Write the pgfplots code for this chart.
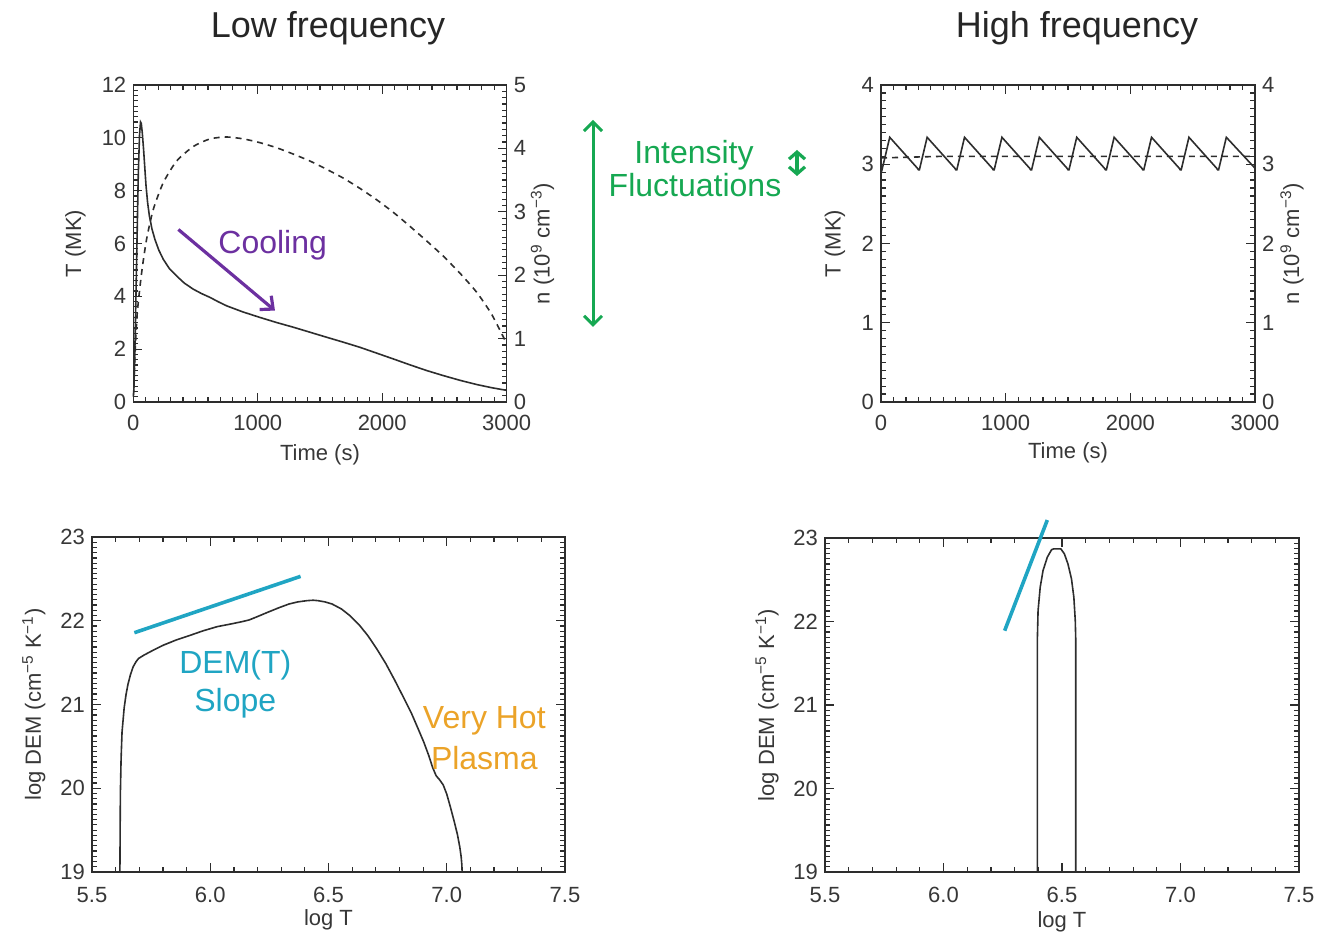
\documentclass[border=0pt]{standalone}
\usepackage{fontspec}
\setmainfont{Liberation Sans}
\usepackage{pgfplots}
\pgfplotsset{compat=1.18}
\usetikzlibrary{arrows.meta}
\definecolor{cpurple}{RGB}{108,48,160}
\definecolor{cgreen}{RGB}{22,168,82}
\definecolor{ccyan}{RGB}{32,165,195}
\definecolor{corange}{RGB}{235,163,40}
\definecolor{cline}{RGB}{45,45,45}
\definecolor{ctext}{RGB}{55,55,55}
\pgfplotsset{
  idl/.style={
    scale only axis, anchor=south west,
    major tick length=4.5pt, minor tick length=2.5pt,
    axis line style={cline, line width=0.7pt},
    tick style={cline, line width=0.6pt},
    tick label style={font=\fontsize{11}{13}\selectfont, text=ctext},
    label style={font=\fontsize{11}{13}\selectfont, text=ctext},
    /pgf/number format/assume math mode=true,
    /pgf/number format/1000 sep={},
  },
}
\begin{document}
\begin{tikzpicture}
\path[use as bounding box] (0,0) rectangle (658.5pt,468pt);

% titles
\node[font=\fontsize{18}{20}\selectfont, text=black!85] at (164pt,454pt) {Low frequency};
\node[font=\fontsize{18}{20}\selectfont, text=black!85] at (538.5pt,454pt) {High frequency};

% ---------- top-left ----------
\begin{axis}[idl, at={(66.65pt,267pt)}, width=186.7pt, height=158.5pt,
  xmin=0, xmax=3000, ymin=0, ymax=12,
  xtick={0,1000,2000,3000}, ytick={0,2,4,6,8,10,12},
  minor x tick num=9, minor y tick num=9,
  xtick pos=both, ytick pos=left, tick align=inside,
  xlabel={Time (s)}, ylabel={T (MK)},
  xlabel style={at={(rel axis cs:0.5,-0.167)}, anchor=center},
  ylabel style={at={(rel axis cs:-0.155,0.5)}, anchor=center},
  xticklabel shift=3pt, clip=false,
]
\addplot[cline, line width=0.8pt] coordinates {
(0,0.2) (5,0.5) (15,2.5) (27,5.4) (40,8.6) (50,10.1) (58,10.6) (64,10.55) (72,10.2)
(82,9.6) (92,8.9) (102,8.2) (115,7.55) (129,7.05) (150,6.55) (174,6.15) (205,5.75)
(241,5.40) (290,5.05) (348,4.77) (410,4.50) (482,4.27) (550,4.10) (616,3.96)
(680,3.80) (750,3.64) (880,3.41) (1018,3.20) (1150,3.01) (1286,2.83) (1420,2.64)
(1554,2.45) (1690,2.26) (1821,2.07) (1955,1.85) (2089,1.63) (2220,1.41) (2357,1.19)
(2490,1.00) (2625,0.82) (2760,0.66) (2880,0.54) (3000,0.44)
};
\draw[cpurple, line width=1.6pt, -{Straight Barb[length=5pt,width=9pt]}] (axis cs:362,6.53) -- (axis cs:1138,3.46);
\node[text=cpurple, font=\fontsize{16}{18}\selectfont] at (axis cs:1120,5.95) {Cooling};
\end{axis}
\begin{axis}[idl, at={(66.65pt,267pt)}, width=186.7pt, height=158.5pt,
  xmin=0, xmax=3000, ymin=0, ymax=5,
  axis x line=none, axis y line*=right,
  ytick={0,1,2,3,4,5}, minor y tick num=9, tick align=inside,
  ylabel={n (10\textsuperscript{9} cm\textsuperscript{−3})},
  ylabel style={at={(rel axis cs:1.096,0.5)}, anchor=center},
]
\addplot[cline, line width=0.8pt, dash pattern=on 3pt off 2.5pt, smooth, tension=0.4] coordinates {
(0,0.1) (5,0.3) (16,0.84) (32,1.41) (67,2.04) (107,2.57) (161,3.04) (241,3.46)
(348,3.80) (482,4.03) (616,4.15) (750,4.18) (884,4.15) (1018,4.09) (1152,4.01)
(1286,3.91) (1420,3.80) (1554,3.67) (1688,3.53) (1820,3.37) (1955,3.19) (2090,2.99)
(2223,2.77) (2357,2.54) (2491,2.30) (2625,2.03) (2759,1.73) (2880,1.38) (3000,0.92)
};
\end{axis}

% ---------- top-right ----------
\begin{axis}[idl, at={(440.5pt,267pt)}, width=187pt, height=158.5pt,
  xmin=0, xmax=3000, ymin=0, ymax=4,
  xtick={0,1000,2000,3000}, ytick={0,1,2,3,4},
  minor x tick num=9, minor y tick num=9,
  xtick pos=both, ytick pos=left, tick align=inside,
  xlabel={Time (s)}, ylabel={T (MK)},
  xlabel style={at={(rel axis cs:0.5,-0.16)}, anchor=center},
  ylabel style={at={(rel axis cs:-0.123,0.5)}, anchor=center},
  xticklabel shift=3pt,
]
\addplot[cline, line width=0.8pt] coordinates {
(0,2.95) (8,2.93) (70,3.34) (292,2.95) (300,2.93) (308,2.93) (370,3.34) (592,2.95) (600,2.93) (608,2.93) (670,3.34)
(892,2.95) (900,2.93) (908,2.93) (970,3.34) (1192,2.95) (1200,2.93) (1208,2.93) (1270,3.34) (1492,2.95) (1500,2.93) (1508,2.93) (1570,3.34)
(1792,2.95) (1800,2.93) (1808,2.93) (1870,3.34) (2092,2.95) (2100,2.93) (2108,2.93) (2170,3.34) (2392,2.95) (2400,2.93) (2408,2.93) (2470,3.34)
(2692,2.95) (2700,2.93) (2708,2.93) (2770,3.34) (3000,2.95)
};
\end{axis}
\begin{axis}[idl, at={(440.5pt,267pt)}, width=187pt, height=158.5pt,
  xmin=0, xmax=3000, ymin=0, ymax=4,
  axis x line=none, axis y line*=right,
  ytick={0,1,2,3,4}, minor y tick num=9, tick align=inside,
  ylabel={n (10\textsuperscript{9} cm\textsuperscript{−3})},
  ylabel style={at={(rel axis cs:1.099,0.5)}, anchor=center},
]
\addplot[cline, line width=0.8pt, dash pattern=on 3pt off 2.5pt] coordinates {
(0,3.08) (500,3.1) (1000,3.1) (1500,3.1) (2000,3.1) (2500,3.1) (3000,3.1)
};
\end{axis}

% green annotations
\draw[cgreen, line width=1.5pt, {Straight Barb[length=4.5pt,width=9pt]}-{Straight Barb[length=4.5pt,width=9pt]}] (296.5pt,408pt) -- (296.5pt,304.5pt);
\draw[cgreen, line width=1.6pt, {Straight Barb[length=3.5pt,width=8pt]}-{Straight Barb[length=3.5pt,width=8pt]}] (398.5pt,393pt) -- (398.5pt,380pt);
\node[text=cgreen, font=\fontsize{16}{18}\selectfont] at (347pt,390.5pt) {Intensity};
\node[text=cgreen, font=\fontsize{16}{18}\selectfont] at (347.5pt,375.5pt) {Fluctuations};

% ---------- bottom-left ----------
\begin{axis}[idl, at={(46pt,32pt)}, width=236.5pt, height=167.5pt,
  xmin=5.5, xmax=7.5, ymin=19, ymax=23,
  xtick={5.5,6,6.5,7,7.5}, ytick={19,20,21,22,23},
  minor x tick num=4, minor y tick num=15,
  xtick pos=both, ytick pos=both, tick align=inside,
  xticklabel style={/pgf/number format/.cd, fixed, fixed zerofill, precision=1},
  xlabel={log T}, ylabel={log DEM (cm\textsuperscript{−5} K\textsuperscript{−1})},
  xlabel style={at={(rel axis cs:0.5,-0.143)}, anchor=center},
  ylabel style={at={(rel axis cs:-0.123,0.5)}, anchor=center},
  xticklabel shift=4pt, clip=false,
]
\addplot[cline, line width=0.8pt] coordinates {
(5.618,19.0) (5.619,19.5) (5.620,19.94) (5.623,20.35) (5.627,20.67) (5.636,20.96) (5.644,21.12) (5.652,21.24)
(5.663,21.36) (5.674,21.45) (5.686,21.51) (5.697,21.55) (5.720,21.59) (5.760,21.65) (5.803,21.71) (5.856,21.77) (5.909,21.82)
(5.970,21.88) (6.030,21.93) (6.085,21.96) (6.136,21.99) (6.165,22.01) (6.200,22.05) (6.242,22.10) (6.290,22.155) (6.333,22.20)
(6.370,22.225) (6.409,22.24) (6.435,22.245) (6.455,22.24) (6.485,22.225) (6.515,22.20) (6.555,22.14) (6.591,22.06)
(6.630,21.95) (6.667,21.82) (6.705,21.66) (6.742,21.49) (6.780,21.29) (6.818,21.08) (6.850,20.90) (6.879,20.71)
(6.903,20.55) (6.924,20.39) (6.940,20.25) (6.955,20.15) (6.970,20.10) (6.985,20.04) (7.000,19.93) (7.015,19.78)
(7.030,19.62) (7.045,19.45) (7.055,19.30) (7.061,19.18) (7.064,19.08) (7.065,19.0)
};
\addplot[ccyan, line width=1.8pt] coordinates {(5.679,21.857) (6.382,22.53)};
\node[text=ccyan, font=\fontsize{16}{18}\selectfont] at (axis cs:6.106,21.47) {DEM(T)};
\node[text=ccyan, font=\fontsize{16}{18}\selectfont] at (axis cs:6.106,21.02) {Slope};
\node[text=corange, font=\fontsize{16}{18}\selectfont] at (axis cs:7.159,20.80) {Very Hot};
\node[text=corange, font=\fontsize{16}{18}\selectfont] at (axis cs:7.159,20.36) {Plasma};
\end{axis}

% ---------- bottom-right ----------
\begin{axis}[idl, at={(412.5pt,32pt)}, width=237pt, height=167pt,
  xmin=5.5, xmax=7.5, ymin=19, ymax=23,
  xtick={5.5,6,6.5,7,7.5}, ytick={19,20,21,22,23},
  minor x tick num=4, minor y tick num=15,
  xtick pos=both, ytick pos=both, tick align=inside,
  xticklabel style={/pgf/number format/.cd, fixed, fixed zerofill, precision=1},
  xlabel={log T}, ylabel={log DEM (cm\textsuperscript{−5} K\textsuperscript{−1})},
  xlabel style={at={(rel axis cs:0.5,-0.15)}, anchor=center},
  ylabel style={at={(rel axis cs:-0.122,0.5)}, anchor=center},
  xticklabel shift=4pt, clip=false,
]
\addplot[cline, line width=0.8pt] coordinates {
(6.396,19.0) (6.396,21.78) (6.399,22.13) (6.408,22.41) (6.420,22.61) (6.438,22.77)
(6.456,22.86) (6.465,22.87) (6.495,22.87) (6.510,22.81) (6.525,22.69) (6.540,22.51)
(6.550,22.29) (6.556,22.01) (6.558,21.78) (6.558,19.0)
};
\addplot[ccyan, line width=1.8pt] coordinates {(6.258,21.89) (6.438,23.215)};
\end{axis}
\end{tikzpicture}
\end{document}
